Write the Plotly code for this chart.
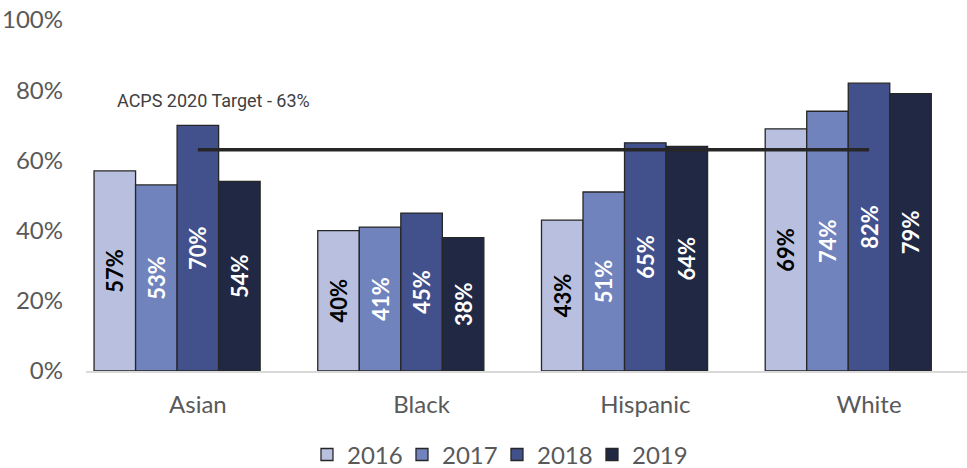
import plotly.graph_objects as go

groups = ["Asian", "Black", "Hispanic", "White"]
years = ["2016", "2017", "2018", "2019"]
rates = {
    "2016": [57, 40, 43, 69],
    "2017": [53, 41, 51, 74],
    "2018": [70, 45, 65, 82],
    "2019": [54, 38, 64, 79],
}
target = 63
target_label = "ACPS 2020 Target - 63%"
y_ticks = [0, 20, 40, 60, 80, 100]
y_tick_text = [f"{v}%" for v in y_ticks]

fills = {"2016": "#B9C0DF", "2017": "#7183BD", "2018": "#42518B", "2019": "#212844"}
label_colors = {"2016": "#000000", "2017": "#FFFFFF", "2018": "#FFFFFF", "2019": "#FFFFFF"}

fig = go.Figure()
for yr in years:
    fig.add_trace(go.Bar(
        x=groups, y=rates[yr], name=yr,
        marker=dict(color=fills[yr], line=dict(color="#262626", width=1.3)),
        text=[f"{v}%" for v in rates[yr]], texttemplate="%{text}",
        textposition="inside", textangle=-90,
        insidetextanchor="middle", constraintext="none",
        textfont=dict(family="Lato", size=22, color=label_colors[yr], weight="bold"),
    ))

# empty series keeps a fifth slot in each cluster
fig.add_trace(go.Bar(x=groups, y=[None] * len(groups), showlegend=False,
                     hoverinfo="skip", marker=dict(line=dict(width=0))))

# district target line
fig.add_trace(go.Scatter(x=groups, y=[target] * len(groups), mode="lines",
                         line=dict(color="#262626", width=3.5), showlegend=False,
                         hoverinfo="skip"))

fig.add_annotation(text=target_label, xref="paper", yref="y", x=0.033, y=77.2,
                   xanchor="left", yanchor="middle", showarrow=False,
                   font=dict(family="Roboto", size=18, color="#404040"))

fig.update_layout(
    width=967, height=468,
    margin=dict(l=86, r=0, t=20, b=97, autoexpand=False),
    paper_bgcolor="white", plot_bgcolor="white",
    barmode="group", bargap=0.072, bargroupgap=0,
    font=dict(family="Lato", size=24, color="#595959"),
    showlegend=True,
    legend=dict(orientation="h", x=0.4665, xanchor="center", yref="container",
                y=0.028, yanchor="middle",
                font=dict(size=24, color="#595959"), itemwidth=30,
                entrywidth=50, entrywidthmode="pixels",
                traceorder="normal"),
    xaxis=dict(range=[-0.5, 3.438], showline=True, linecolor="#D9D9D9", linewidth=1.5,
               ticks="", showgrid=False, ticklabelstandoff=11, automargin=False),
    yaxis=dict(range=[0, 100], tickvals=y_ticks, ticktext=y_tick_text, showgrid=False,
               zeroline=False, showline=False, ticks="", ticklabelstandoff=22,
               automargin=False),
)

fig.write_html("out.html")
